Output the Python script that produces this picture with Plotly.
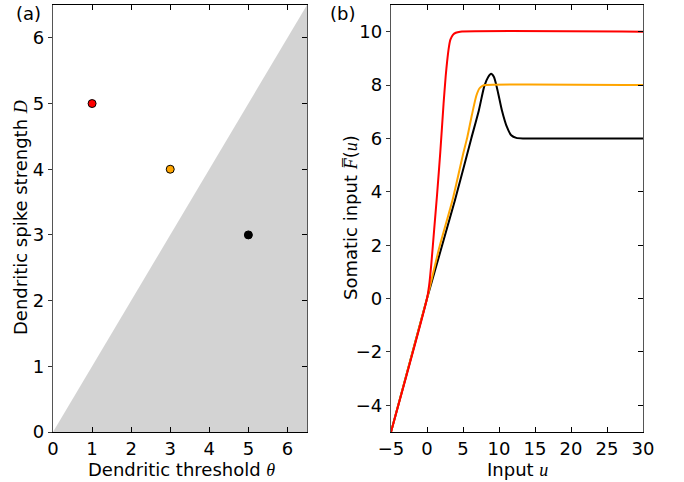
import plotly.graph_objects as go

W, H = 684, 482

# ---------------- data ----------------
# panel (a): shaded region boundary (theta, D) and the three parameter points
region_theta = [0, 6.5, 6.5, 0]
region_D = [0, 6.5, 0, 0]
pts_theta = [1, 3, 5]
pts_D = [5, 4, 3]
pts_colors = ["#ff0000", "#ffa500", "#000000"]

# panel (b): curves
red_u = [-5, 0, 0.3, 0.6, 1.0, 1.4, 1.85, 2.3, 2.6, 2.8, 3.0, 3.25, 3.6, 4.0, 4.6, 30]
red_F = [-5, 0, 0.5, 1.3, 2.6, 3.9, 5.5, 7.3, 8.35, 8.9, 9.35, 9.7, 9.88, 9.96, 10, 10]

orange_u = [-5, 0, 1.7, 3.6, 5.0, 5.6, 6.25, 6.85, 7.3, 7.7, 8.1, 30]
orange_F = [-5, 0, 1.9, 3.75, 5.4, 6.05, 6.9, 7.6, 7.88, 7.97, 8, 8]

black_u = [-5, 0, 3.9, 6.15, 7.2, 7.95, 8.5, 8.9, 9.3, 9.8, 10.4, 11.1, 11.7, 12.4, 13.5, 30]
black_F = [-5, 0, 3.7, 6.0, 7.05, 7.95, 8.3, 8.42, 8.3, 7.8, 7.06, 6.43, 6.12, 6.02, 6, 6]

xa_ticks = [0, 1, 2, 3, 4, 5, 6]
ya_ticks = [0, 1, 2, 3, 4, 5, 6]
xb_ticks = [-5, 0, 5, 10, 15, 20, 25, 30]
yb_ticks = [-4, -2, 0, 2, 4, 6, 8, 10]

# ---------------- figure ----------------
FONT = "DejaVu Sans"
FS = 18
fig = go.Figure()

fig.add_trace(go.Scatter(x=region_theta, y=region_D, fill="toself",
                         fillcolor="#d3d3d3", line=dict(width=0),
                         mode="lines", hoverinfo="skip", showlegend=False,
                         xaxis="x", yaxis="y"))
fig.add_trace(go.Scatter(x=pts_theta, y=pts_D, mode="markers",
                         marker=dict(size=8, color=pts_colors,
                                     line=dict(color="black", width=1)),
                         showlegend=False, xaxis="x", yaxis="y"))

for u, F, c in [(black_u, black_F, "#000000"), (orange_u, orange_F, "#ffa500"),
                (red_u, red_F, "#ff0000")]:
    fig.add_trace(go.Scatter(x=u, y=F, mode="lines",
                             line=dict(color=c, width=2, shape="spline", smoothing=0.6),
                             showlegend=False, xaxis="x2", yaxis="y2"))

# empty traces to activate right-side overlay axes
fig.add_trace(go.Scatter(x=[None], y=[None], xaxis="x", yaxis="y3", showlegend=False))
fig.add_trace(go.Scatter(x=[None], y=[None], xaxis="x2", yaxis="y4", showlegend=False))

ydom = [1 - 432 / H, 1 - 5 / H]
xa_dom = [53 / W, 307 / W]
xb_dom = [391 / W, 643 / W]

tickfont = dict(family=FONT, size=FS, color="black")
common_x = dict(ticks="inside", ticklen=5, tickcolor="black", showline=True,
                linecolor="black", linewidth=1.3, mirror="ticks", showgrid=False,
                zeroline=False, tickfont=tickfont, automargin=False)
common_yl = dict(ticks="outside", ticklen=4, tickcolor="#333", showline=True,
                 linecolor="#555", linewidth=1.3, showgrid=False, zeroline=False,
                 tickfont=tickfont, domain=ydom, automargin=False)
common_yr = dict(ticks="inside", ticklen=5, tickcolor="black", showline=True,
                 linecolor="#555", linewidth=1.3, showgrid=False, zeroline=False,
                 showticklabels=False, side="right", domain=ydom, automargin=False)

fig.update_layout(
    template="none",
    width=W, height=H, margin=dict(l=0, r=0, t=0, b=0, pad=0), autosize=False,
    paper_bgcolor="white", plot_bgcolor="white",
    xaxis=dict(domain=xa_dom, range=[0, 6.5], tickvals=xa_ticks, anchor="y", **common_x),
    yaxis=dict(range=[0, 6.5], tickvals=ya_ticks, anchor="x", **common_yl),
    yaxis3=dict(range=[0, 6.5], tickvals=ya_ticks, anchor="x", overlaying="y", **common_yr),
    xaxis2=dict(domain=xb_dom, range=[-5, 30], tickvals=xb_ticks, anchor="y2", **common_x),
    yaxis2=dict(range=[-5, 11], tickvals=yb_ticks, anchor="x2", **common_yl),
    yaxis4=dict(range=[-5, 11], tickvals=yb_ticks, anchor="x2", overlaying="y2", **common_yr),
)

def ann(text, px, py, angle=0, size=FS):
    fig.add_annotation(text=text, x=px / W, y=1 - py / H, xref="paper", yref="paper",
                       showarrow=False, textangle=angle, xanchor="center", yanchor="middle",
                       font=dict(family=FONT, size=size, color="black"))

def m(s):
    return "<span style=\"font-family:'Liberation Serif'\"><i>" + s + "</i></span>"

ann("(a)", 28, 13)
ann("(b)", 342, 13)
ann("Dendritic threshold " + m("θ"), 181, 469)
ann("Input " + m("u"), 517, 469)
ann("Dendritic spike strength " + m("D"), 21, 218, angle=-90)
ann("Somatic input " + m("F\u0305") + "(" + m("u") + ")", 351, 218, angle=-90)

fig.write_html("out.html")
